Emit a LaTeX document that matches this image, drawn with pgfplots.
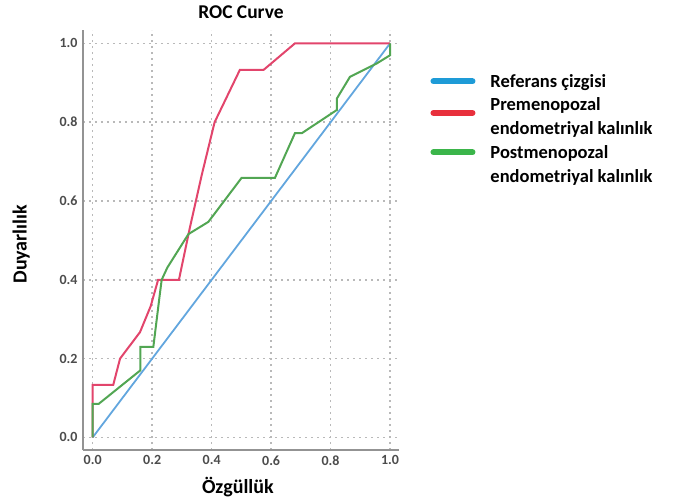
\documentclass[border=0pt]{standalone}
\usepackage{fontspec}
\setmainfont{Carlito}
\usepackage{pgfplots}
\pgfplotsset{compat=1.18}

\definecolor{refblue}{HTML}{62A6DE}
\definecolor{prered}{HTML}{E2456C}
\definecolor{postgreen}{HTML}{52A653}
\definecolor{legblue}{HTML}{1E9BD7}
\definecolor{legred}{HTML}{E8303C}
\definecolor{leggreen}{HTML}{3BB54A}

\begin{document}
\begin{tikzpicture}
\path[use as bounding box] (0,0) rectangle (689pt,-504pt);
\begin{axis}[
  at={(83pt,-450pt)}, anchor=south west,
  scale only axis, width=316pt, height=420pt,
  xmin=-0.0326, xmax=1.030, ymin=-0.032, ymax=1.034,
  axis x line*=bottom, axis y line*=left,
  axis line style={gray!85, line width=1.3pt, -},
  xtick={0,0.2,...,1.0}, ytick={0,0.2,...,1.0},
  major tick length=0pt,
  /pgf/number format/assume math mode=true,
  /pgf/number format/.cd, fixed, fixed zerofill, precision=1, /pgfplots/.cd,
  ticklabel style={font=\fontsize{14}{16}\selectfont\bfseries, text=black!70},
  yticklabel style={xshift=-2pt},
  xticklabel style={yshift=-2pt},
  grid=major,
  major grid style={gray!55, line width=1.6pt, dash pattern=on 1.6pt off 4.4pt},
  title={ROC Curve},
  title style={font=\fontsize{19.5}{21}\selectfont\bfseries, at={(0.5,1)}, anchor=south, yshift=2pt},
  xlabel={Özgüllük},
  xlabel style={font=\fontsize{20}{22}\selectfont\bfseries, at={(axis description cs:0.49,-0.088)}, anchor=center},
  ylabel={Duyarlılık},
  ylabel style={font=\fontsize{20}{22}\selectfont\bfseries, at={(axis description cs:-0.196,0.49)}, anchor=center, rotate=0},
  legend style={at={(axis description cs:1.099,0.90)}, anchor=north west, draw=none, fill=none,
    font=\fontsize{18.5}{24}\selectfont\bfseries, inner sep=0pt, row sep=5pt,
    cells={anchor=west, align=left}, column sep=13pt},
  legend image code/.code={\draw[line width=6pt, line cap=round] (3pt,0pt) -- (42pt,0pt);},
]
\addlegendimage{legblue}
\addlegendentry{Referans çizgisi}
\addlegendimage{legend image code/.code={\draw[legred, line width=6pt, line cap=round] (3pt,4pt) -- (42pt,4pt);}}
\addlegendentry{Premenopozal\\endometriyal kalınlık}
\addlegendimage{legend image code/.code={\draw[leggreen, line width=6pt, line cap=round] (3pt,12pt) -- (42pt,12pt);}}
\addlegendentry{Postmenopozal\\endometriyal kalınlık}

\addplot[forget plot, refblue, line width=1.8pt] coordinates {(0,0) (1,1)};
\addplot[forget plot, prered, line width=2pt] coordinates {
  (0,0) (0,0.133) (0.069,0.133) (0.092,0.2) (0.159,0.267) (0.195,0.333)
  (0.22,0.4) (0.29,0.4) (0.327,0.533) (0.367,0.667) (0.41,0.8)
  (0.495,0.933) (0.575,0.933) (0.68,1) (1,1)};
\addplot[forget plot, postgreen, line width=2pt] coordinates {
  (0,0) (0,0.085) (0.02,0.085) (0.16,0.17) (0.16,0.23) (0.204,0.23)
  (0.226,0.365) (0.232,0.4) (0.251,0.431) (0.322,0.516) (0.389,0.547)
  (0.501,0.659) (0.613,0.659) (0.68,0.772) (0.703,0.772) (0.821,0.831)
  (0.821,0.86) (0.865,0.915) (0.955,0.949) (1,0.97) (1,1)};
\end{axis}
\end{tikzpicture}
\end{document}
